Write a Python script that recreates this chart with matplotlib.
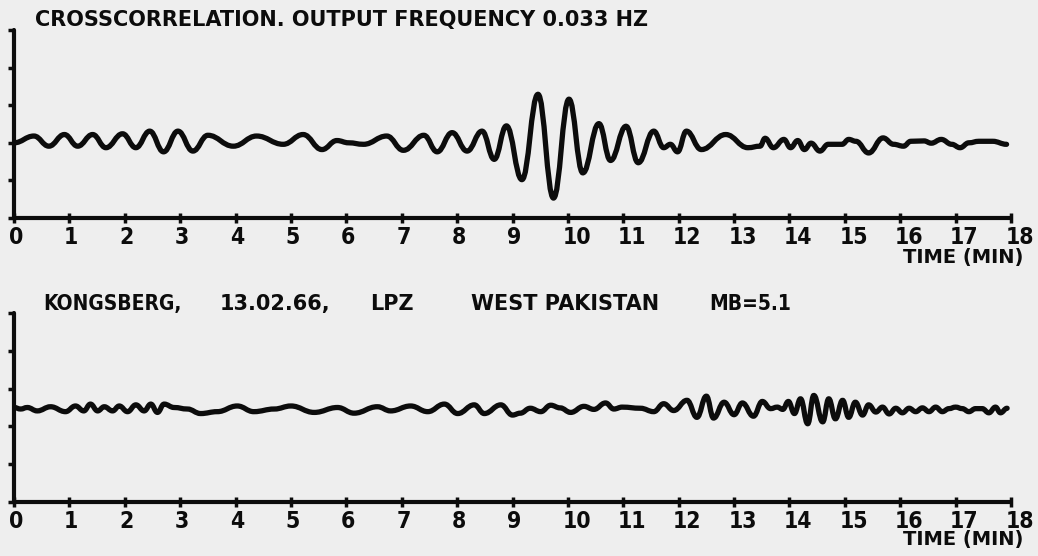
import matplotlib
matplotlib.use("Agg")
import matplotlib.pyplot as plt
from matplotlib.path import Path
from matplotlib.patches import PathPatch
from matplotlib.transforms import ScaledTranslation

plt.rcParams['font.family'] = ['DejaVu Sans']
plt.rcParams['font.weight'] = 'bold'

BG = '#eeeeee'
INK = '#0c0c0c'

# crosscorrelation trace, peaks and troughs (time in min, amplitude in axis units)
top_t = [0.0, 0.36, 0.63, 0.91, 1.15, 1.42, 1.66, 1.96, 2.20, 2.45,
         2.70, 2.96, 3.23, 3.50, 3.96, 4.38, 4.86, 5.22, 5.56, 5.83,
         6.04, 6.31, 6.73, 7.03, 7.40, 7.64, 7.91, 8.18, 8.45, 8.67,
         8.89, 9.17, 9.46, 9.74, 10.02, 10.27, 10.56, 10.77, 11.05, 11.27,
         11.55, 11.73, 11.85, 11.98, 12.14, 12.41, 12.85, 13.25, 13.47, 13.56,
         13.71, 13.90, 14.02, 14.15, 14.27, 14.39, 14.55, 14.70, 14.95, 15.07,
         15.20, 15.43, 15.69, 15.88, 16.06, 16.19, 16.43, 16.56, 16.74, 16.93,
         17.08, 17.24, 17.42, 17.67, 17.92]
top_v = [2.00, 2.18, 1.91, 2.22, 1.91, 2.22, 1.87, 2.24, 1.87, 2.31,
         1.76, 2.31, 1.78, 2.20, 1.91, 2.18, 1.96, 2.22, 1.82, 2.06,
         2.00, 1.96, 2.18, 1.80, 2.20, 1.76, 2.27, 1.78, 2.31, 1.56,
         2.45, 1.02, 3.29, 0.53, 3.16, 1.20, 2.51, 1.53, 2.44, 1.47,
         2.31, 1.87, 1.96, 1.76, 2.31, 1.82, 2.22, 1.87, 1.91, 2.12,
         1.87, 2.09, 1.87, 2.06, 1.82, 1.99, 1.78, 1.96, 1.96, 2.09,
         2.04, 1.73, 2.13, 1.96, 1.91, 2.04, 2.05, 1.99, 2.09, 1.96,
         1.87, 2.00, 2.04, 2.04, 1.96]

# Kongsberg LPZ record
bot_t = [0.0, 0.12, 0.24, 0.42, 0.66, 0.93, 1.11, 1.26, 1.38, 1.51,
         1.63, 1.78, 1.90, 2.05, 2.20, 2.35, 2.47, 2.59, 2.71, 2.89,
         3.13, 3.37, 3.67, 4.03, 4.33, 4.70, 5.00, 5.42, 5.84, 6.14,
         6.56, 6.80, 7.16, 7.47, 7.77, 8.01, 8.31, 8.49, 8.79, 9.00,
         9.14, 9.32, 9.51, 9.69, 9.86, 10.05, 10.29, 10.47, 10.68, 10.83,
         10.98, 11.31, 11.55, 11.73, 11.91, 12.15, 12.33, 12.50, 12.63, 12.82,
         13.00, 13.15, 13.35, 13.51, 13.66, 13.78, 13.88, 13.98, 14.09, 14.20,
         14.33, 14.44, 14.60, 14.71, 14.83, 14.96, 15.07, 15.19, 15.32, 15.43,
         15.56, 15.68, 15.80, 15.92, 16.04, 16.16, 16.28, 16.40, 16.52, 16.64,
         16.76, 16.88, 17.00, 17.12, 17.24, 17.36, 17.48, 17.60, 17.72, 17.81,
         17.93]
bot_v = [2.50, 2.46, 2.50, 2.41, 2.52, 2.39, 2.54, 2.41, 2.59, 2.41,
         2.52, 2.41, 2.54, 2.39, 2.57, 2.41, 2.59, 2.37, 2.59, 2.50,
         2.46, 2.34, 2.39, 2.54, 2.39, 2.46, 2.54, 2.37, 2.50, 2.35,
         2.52, 2.41, 2.54, 2.39, 2.59, 2.34, 2.57, 2.34, 2.57, 2.30,
         2.35, 2.48, 2.39, 2.56, 2.49, 2.37, 2.53, 2.45, 2.62, 2.46,
         2.51, 2.48, 2.39, 2.60, 2.42, 2.69, 2.24, 2.80, 2.22, 2.64,
         2.31, 2.62, 2.27, 2.66, 2.47, 2.51, 2.45, 2.66, 2.34, 2.73,
         2.07, 2.82, 2.12, 2.73, 2.20, 2.69, 2.24, 2.64, 2.30, 2.57,
         2.38, 2.51, 2.33, 2.48, 2.36, 2.48, 2.39, 2.49, 2.39, 2.51,
         2.39, 2.47, 2.51, 2.47, 2.39, 2.47, 2.47, 2.36, 2.51, 2.36,
         2.48]

minutes = list(range(19))
ticks_y = list(range(6))

top_title = 'CROSSCORRELATION. OUTPUT FREQUENCY 0.033 HZ'
bot_title = ['KONGSBERG,', '13.02.66,', 'LPZ', 'WEST PAKISTAN', 'MB=5.1']
bot_title_x = [43, 220, 370, 471, 709]
bot_title_stretch = ['condensed', 'normal', 'normal', 'normal', 'condensed']
xlabel = 'TIME (MIN)'


def trace(t, v):
    # smooth pen curve through the read peaks/troughs
    verts = [(t[0], v[0])]
    codes = [Path.MOVETO]
    for i in range(1, len(t)):
        dt = t[i] - t[i - 1]
        verts += [(t[i - 1] + 0.42 * dt, v[i - 1]), (t[i] - 0.42 * dt, v[i]), (t[i], v[i])]
        codes += [Path.CURVE4] * 3
    return Path(verts, codes)


def setup(ax):
    ax.set_facecolor(BG)
    ax.set_xlim(0, 18)
    ax.set_ylim(0, 5)
    for s in ['top', 'right']:
        ax.spines[s].set_visible(False)
    for s in ['left', 'bottom']:
        ax.spines[s].set_linewidth(3)
        ax.spines[s].set_color(INK)
        ax.spines[s].set_capstyle('round')
    ax.set_xticks(minutes)
    ax.set_xticklabels([str(m) for m in minutes], fontsize=16.5, fontweight='bold',
                       fontstretch='condensed', color=INK)
    ax.set_yticks(ticks_y)
    ax.set_yticklabels([])
    ax.tick_params(axis='x', direction='inout', length=7, width=2.5, color=INK, pad=2)
    ax.tick_params(axis='y', direction='out', length=4, width=2.5, color=INK)
    off = ScaledTranslation(-0.055, 0, ax.figure.dpi_scale_trans)
    for lbl in ax.get_xticklabels():
        lbl.set_ha('left')
        lbl.set_transform(lbl.get_transform() + off)


fig = plt.figure(figsize=(10.38, 5.56), dpi=100, facecolor=BG)
ax1 = fig.add_axes([14 / 1038, 1 - 218 / 556, 997 / 1038, 188 / 556])
ax2 = fig.add_axes([14 / 1038, 1 - 502 / 556, 997 / 1038, 189 / 556])

for ax, t, v in [(ax1, top_t, top_v), (ax2, bot_t, bot_v)]:
    setup(ax)
    ax.add_patch(PathPatch(trace(t, v), fill=False, lw=3.8, ec=INK,
                           capstyle='round', joinstyle='round'))

fig.text(35 / 1038, 1 - 20 / 556, top_title, fontsize=15, fontweight='bold',
         color=INK, va='center', ha='left')
for txt, x, st in zip(bot_title, bot_title_x, bot_title_stretch):
    fig.text(x / 1038, 1 - 304 / 556, txt, fontsize=15, fontweight='bold',
             fontstretch=st, color=INK, va='center', ha='left')

fig.text(1023 / 1038, 1 - 258 / 556, xlabel, fontsize=14, fontweight='bold',
         color=INK, va='center', ha='right')
fig.text(1023 / 1038, 1 - 540 / 556, xlabel, fontsize=14, fontweight='bold',
         color=INK, va='center', ha='right')

fig.savefig('out.png', dpi=100, facecolor=BG)
